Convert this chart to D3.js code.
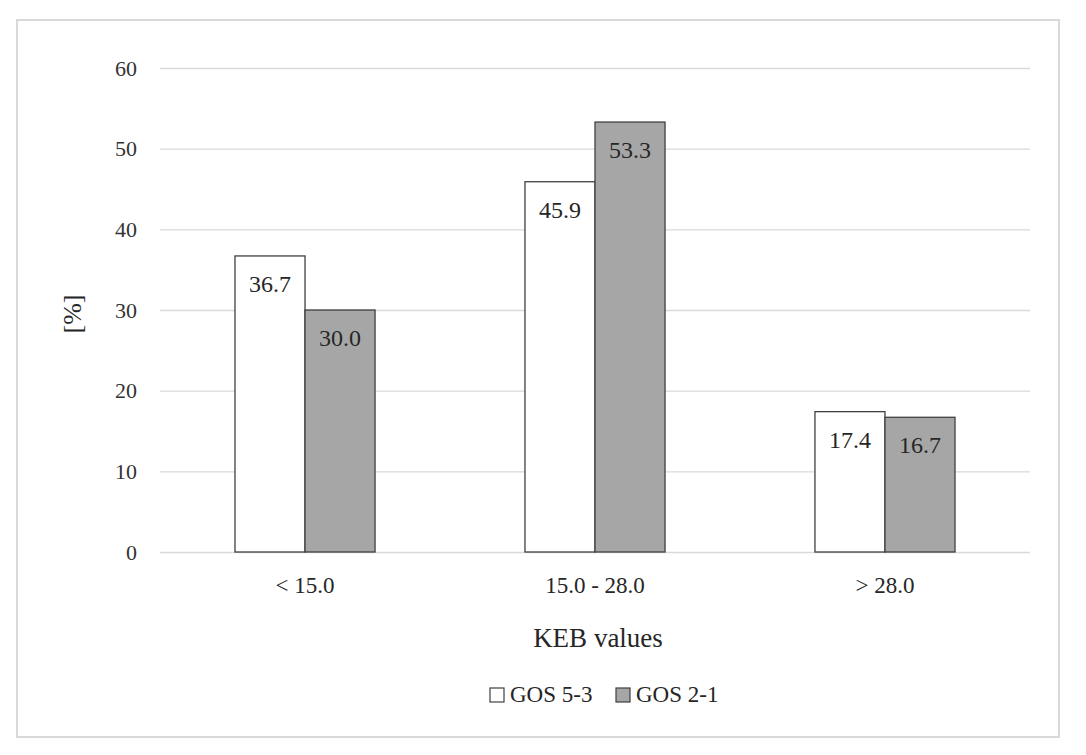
<!DOCTYPE html>
<html>
<head>
<meta charset="utf-8">
<script src="https://cdn.jsdelivr.net/npm/d3@7"></script>
<style>
  html, body { margin: 0; padding: 0; background: #fff; }
  svg text { font-family: "Palatino Linotype", Palatino, "Book Antiqua", "Liberation Serif", serif; fill: #262626; }
</style>
</head>
<body>
<svg id="chart" width="1086" height="755"></svg>
<script>
const categories = ["< 15.0", "15.0 - 28.0", "> 28.0"];
const seriesNames = ["GOS 5-3", "GOS 2-1"];
const gos53 = [36.7, 45.9, 17.4];
const gos21 = [30.0, 53.3, 16.7];
const yTicks = [0, 10, 20, 30, 40, 50, 60];
const xTitle = "KEB values";
const yTitle = "[%]";

const colors = ["#ffffff", "#a6a6a6"];
const seriesValues = [gos53, gos21];

const svg = d3.select("#chart");
const plotLeft = 160, plotRight = 1030, plotTop = 68, plotBottom = 552;

// outer border
svg.append("rect").attr("x", 17).attr("y", 20).attr("width", 1042).attr("height", 717)
  .attr("fill", "#fff").attr("stroke", "#d9d9d9").attr("stroke-width", 2);

const y = d3.scaleLinear().domain([0, 60]).range([plotBottom, plotTop]);
const x0 = d3.scaleBand().domain(categories).range([plotLeft, plotRight]).paddingInner(0.517).paddingOuter(0.2586);
const x1 = d3.scaleBand().domain(seriesNames).range([0, x0.bandwidth()]);

// gridlines
const yAxis = d3.axisLeft(y).tickValues(yTicks).tickSize(-(plotRight - plotLeft)).tickPadding(23).tickFormat(d3.format("d"));
const gy = svg.append("g").attr("transform", `translate(${plotLeft},0)`).call(yAxis);
gy.select(".domain").remove();
gy.selectAll(".tick line").attr("stroke", "#d9d9d9").attr("stroke-width", 1.3);
gy.selectAll(".tick text").attr("font-size", 22).style("fill", "#333");

// bars
const rows = categories.map((c, i) => ({ cat: c, vals: seriesNames.map((s, j) => ({ s, j, v: seriesValues[j][i] })) }));
const g = svg.append("g").selectAll("g").data(rows).join("g")
  .attr("transform", d => `translate(${x0(d.cat)},0)`);
g.selectAll("rect").data(d => d.vals).join("rect")
  .attr("x", d => x1(d.s))
  .attr("y", d => y(d.v))
  .attr("width", x1.bandwidth())
  .attr("height", d => y(0) - y(d.v))
  .attr("fill", d => colors[d.j])
  .attr("stroke", "#404040").attr("stroke-width", 1.3);
g.selectAll("text").data(d => d.vals).join("text")
  .attr("x", d => x1(d.s) + x1.bandwidth() / 2)
  .attr("y", d => y(d.v) + 36)
  .attr("text-anchor", "middle")
  .attr("font-size", 24)
  .text(d => d.v.toFixed(1));

// x axis labels
const xAxis = d3.axisBottom(x0).tickSize(0).tickPadding(0);
const gx = svg.append("g").attr("transform", `translate(0,${plotBottom})`).call(xAxis);
gx.select(".domain").remove();
gx.selectAll(".tick text").attr("font-size", 23).attr("dy", 0).attr("y", 41).style("fill", "#262626");

// axis titles
svg.append("text").attr("x", (plotLeft + plotRight) / 2 + 3).attr("y", 647).attr("text-anchor", "middle")
  .attr("font-size", 27).text(xTitle);
svg.append("text").attr("transform", "translate(81,314) rotate(-90)").attr("text-anchor", "middle")
  .attr("font-size", 26).text(yTitle);

// legend
const legend = svg.append("g");
const legendX = [490, 616];
seriesNames.forEach((s, j) => {
  legend.append("rect").attr("x", legendX[j]).attr("y", 688).attr("width", 14).attr("height", 14)
    .attr("fill", colors[j]).attr("stroke", "#404040").attr("stroke-width", 1.2);
  legend.append("text").attr("x", legendX[j] + 20).attr("y", 702).attr("font-size", 23).text(s);
});
</script>
</body>
</html>
